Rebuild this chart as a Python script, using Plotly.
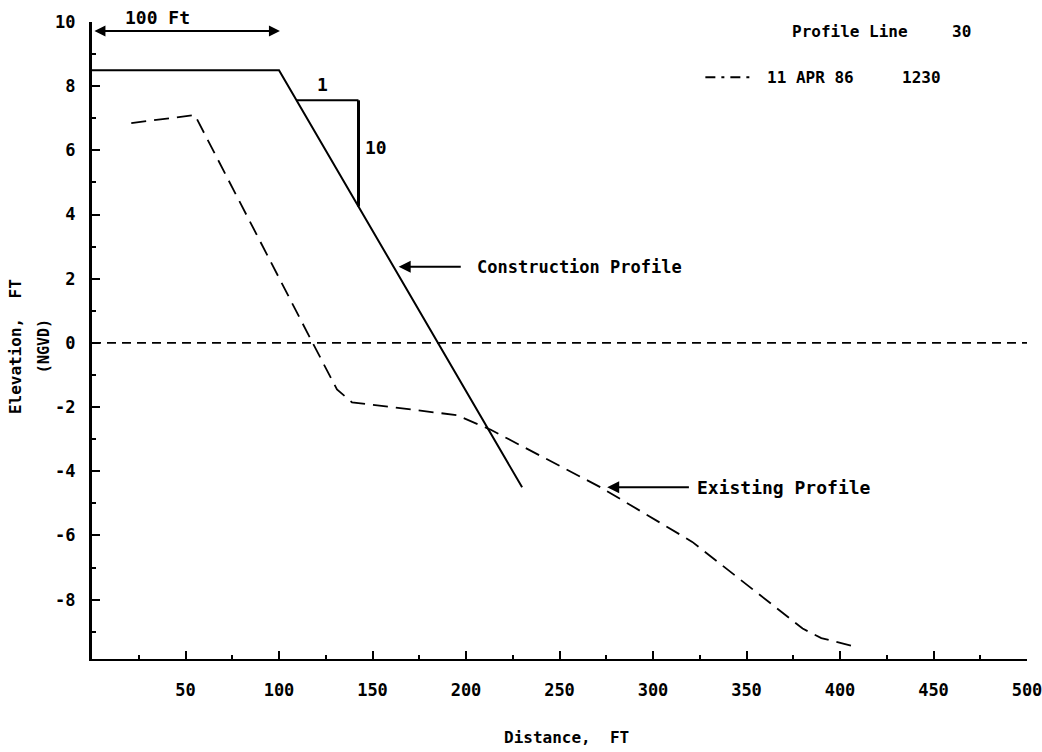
import plotly.graph_objects as go

# ---- data ----
construction_x = [0, 100, 230]
construction_y = [8.5, 8.5, -4.5]

existing_x = [21, 55, 118, 131, 139, 195, 213, 272, 321, 380, 390, 407]
existing_y = [6.85, 7.1, 0.0, -1.45, -1.85, -2.25, -2.7, -4.5, -6.2, -8.9, -9.2, -9.45]

datum_x = [0, 500]
datum_y = [0, 0]

x_ticks = [50, 100, 150, 200, 250, 300, 350, 400, 450, 500]
y_ticks = [10, 8, 6, 4, 2, 0, -2, -4, -6, -8]

MONO = "DejaVu Sans Mono"
BLACK = "#000000"

def f(size):
    return dict(family=MONO, size=size, color=BLACK, weight="bold")

fig = go.Figure()

fig.add_trace(go.Scatter(x=datum_x, y=datum_y, mode="lines",
                         line=dict(color=BLACK, width=1.8, dash="9px,6px"),
                         showlegend=False, hoverinfo="skip"))
fig.add_trace(go.Scatter(x=construction_x, y=construction_y, mode="lines",
                         line=dict(color=BLACK, width=2),
                         showlegend=False))
fig.add_trace(go.Scatter(x=existing_x, y=existing_y, mode="lines",
                         line=dict(color=BLACK, width=1.8, dash="15px,8px"),
                         showlegend=False))

fig.update_xaxes(range=[0, 500], tickvals=x_ticks, ticktext=[str(v) for v in x_ticks],
                 showgrid=False, zeroline=False, showline=True, linecolor=BLACK, linewidth=2,
                 ticks="inside", ticklen=8, tickwidth=2, tickcolor=BLACK,
                 minor=dict(dtick=25, tick0=0, ticks="inside", ticklen=4, tickwidth=1.5,
                            tickcolor=BLACK, showgrid=False),
                 tickfont=f(17), ticklabelstandoff=15, ticklabeloverflow="allow",
                 automargin=False)
fig.update_yaxes(range=[-9.85, 10], tickvals=y_ticks, ticktext=[str(v) for v in y_ticks],
                 showgrid=False, zeroline=False, showline=True, linecolor=BLACK, linewidth=3,
                 ticks="inside", ticklen=8, tickwidth=2, tickcolor=BLACK,
                 minor=dict(dtick=1, tick0=0, ticks="inside", ticklen=4, tickwidth=1.5,
                            tickcolor=BLACK, showgrid=False),
                 tickfont=f(17), ticklabelstandoff=10, automargin=False)

annotations = [
    # axis titles
    dict(text="Distance,  FT", xref="paper", yref="paper", x=0.508, y=-0.124,
         showarrow=False, font=f(16), xanchor="center", yanchor="middle"),
    dict(text="Elevation,  FT", xref="paper", yref="y", x=-0.0824, y=-0.1,
         showarrow=False, font=f(16), textangle=-90, xanchor="center", yanchor="middle"),
    dict(text="(NGVD)", xref="paper", yref="y", x=-0.0513, y=-0.1,
         showarrow=False, font=f(15), textangle=-90, xanchor="center", yanchor="middle"),
    # 100 ft scale arrow
    dict(x=100.5, y=9.72, ax=0.5, ay=9.72, xref="x", yref="y", axref="x", ayref="y",
         text="", showarrow=True, arrowhead=2, arrowside="end+start", arrowsize=1.1,
         arrowwidth=2, arrowcolor=BLACK),
    dict(text="100 Ft", x=35, y=1.0078, xref="x", yref="paper", showarrow=False,
         yanchor="middle", font=f(18)),
    # slope labels
    dict(text="1", x=123.5, y=8.05, xref="x", yref="y", showarrow=False, font=f(18)),
    dict(text="10", x=152, y=6.1, xref="x", yref="y", showarrow=False, font=f(18)),
    # construction profile callout
    dict(x=164, y=2.37, ax=198, ay=2.37, xref="x", yref="y", axref="x", ayref="y",
         text="", showarrow=True, arrowhead=2, arrowsize=1.2, arrowwidth=2, arrowcolor=BLACK),
    dict(text="Construction Profile", x=205, y=2.37, xref="x", yref="y", showarrow=False,
         xanchor="left", font=f(17)),
    # existing profile callout
    dict(x=275.5, y=-4.5, ax=320, ay=-4.5, xref="x", yref="y", axref="x", ayref="y",
         text="", showarrow=True, arrowhead=2, arrowsize=1.2, arrowwidth=2, arrowcolor=BLACK),
    dict(text="Existing Profile", x=322.5, y=-4.5, xref="x", yref="y", showarrow=False,
         xanchor="left", font=f(18)),
    # legend block
    dict(text="Profile Line", x=373, y=9.69, xref="x", yref="y", showarrow=False,
         xanchor="left", font=f(16)),
    dict(text="30", x=459, y=9.69, xref="x", yref="y", showarrow=False,
         xanchor="left", font=f(16)),
    dict(text="11 APR 86", x=360, y=8.28, xref="x", yref="y", showarrow=False,
         xanchor="left", font=f(16)),
    dict(text="1230", x=432, y=8.28, xref="x", yref="y", showarrow=False,
         xanchor="left", font=f(16)),
]

shapes = [
    # slope triangle
    dict(type="line", xref="x", yref="y", x0=109.4, y0=7.56, x1=142.5, y1=7.56,
         line=dict(color=BLACK, width=2)),
    dict(type="line", xref="x", yref="y", x0=142.5, y0=7.56, x1=142.5, y1=4.25,
         line=dict(color=BLACK, width=3)),
    # legend line sample
    dict(type="line", xref="x", yref="y", x0=328, y0=8.28, x1=352, y1=8.28,
         line=dict(color=BLACK, width=2, dash="10px,6px,3px,6px")),
]

fig.update_layout(
    width=1042, height=752,
    margin=dict(l=92, r=15, t=22, b=93),
    paper_bgcolor="white", plot_bgcolor="white",
    annotations=annotations, shapes=shapes,
    showlegend=False,
)

fig.write_html("out.html", config={"displayModeBar": False},
               post_script="document.body.style.margin='0px';document.body.style.overflow='hidden';")
